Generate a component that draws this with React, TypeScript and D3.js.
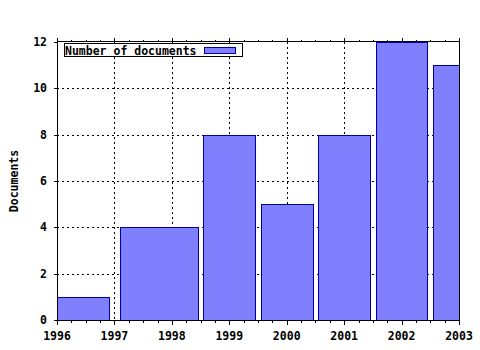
import React from "react";
import * as d3 from "d3";

const years = [1996, 1998, 1999, 2000, 2001, 2002, 2003];
const documents = [1, 4, 8, 5, 8, 12, 11];
const xTickYears = [1996, 1997, 1998, 1999, 2000, 2001, 2002, 2003];
const yTickValues = [0, 2, 4, 6, 8, 10, 12];
const seriesLabel = "Number of documents";
const yAxisLabel = "Documents";

const W = 480;
const H = 350;
const M = { left: 57, right: 21, top: 42, bottom: 30 };
const BOX_FACTOR = 0.9;
const FONT = "'DejaVu Sans Mono', 'Liberation Mono', monospace";
const FILL = "#8080ff";
const EDGE = "#0000a0";

export default function App() {
  const x = d3.scaleLinear().domain([1996, 2003]).range([M.left, W - M.right]);
  const y = d3.scaleLinear().domain([0, 12]).range([H - M.bottom, M.top]);
  const [x0, x1] = x.range();
  const [yb, yt] = y.range();

  // gnuplot-like autowidth boxes: half distance to neighbours, scaled
  const boxes = years.map((yr, i) => {
    const prev = i > 0 ? years[i - 1] : null;
    const next = i < years.length - 1 ? years[i + 1] : null;
    let dl = prev !== null ? (yr - prev) / 2 : null;
    let dr = next !== null ? (next - yr) / 2 : null;
    if (dl === null) dl = dr as number;
    if (dr === null) dr = dl;
    return { x0: yr - dl * BOX_FACTOR, x1: yr + dr * BOX_FACTOR, v: documents[i] };
  });

  const minorTicks: number[] = [];
  for (let yr = 1996; yr < 2003; yr++) {
    for (let q = 1; q < 4; q++) minorTicks.push(yr + q / 4);
  }

  const r = (v: number) => Math.round(v) + 0.5;

  return (
    <svg
      width={W}
      height={H}
      style={{ position: "absolute", left: 0, top: 0, background: "#fff" }}
      fontFamily={FONT}
    >
      <defs>
        <clipPath id="plot">
          <rect x={x0} y={yt} width={x1 - x0 + 1} height={yb - yt + 1} />
        </clipPath>
      </defs>
      <rect x={0} y={0} width={W} height={H} fill="#fff" />

      {/* grid */}
      <g stroke="#000" strokeWidth={1} strokeDasharray="2,3" shapeRendering="crispEdges">
        {xTickYears.slice(1, -1).map((t) => (
          <line key={"gx" + t} x1={r(x(t))} x2={r(x(t))} y1={yt} y2={yb} />
        ))}
        {yTickValues.slice(1, -1).map((t) => (
          <line key={"gy" + t} x1={x0} x2={x1} y1={r(y(t))} y2={r(y(t))} />
        ))}
      </g>

      {/* bars */}
      <g clipPath="url(#plot)" shapeRendering="crispEdges">
        {boxes.map((b, i) => (
          <rect
            key={i}
            x={r(x(b.x0))}
            y={r(y(b.v))}
            width={Math.round(x(b.x1)) - Math.round(x(b.x0))}
            height={Math.round(y(0)) - Math.round(y(b.v))}
            fill={FILL}
            stroke={EDGE}
            strokeWidth={1}
          />
        ))}
      </g>

      {/* frame */}
      <rect
        x={r(x0)}
        y={r(yt) - 1}
        width={Math.round(x1) - Math.round(x0)}
        height={Math.round(yb) - Math.round(yt) + 1}
        fill="none"
        stroke="#000"
        strokeWidth={1}
        shapeRendering="crispEdges"
      />

      {/* ticks */}
      <g stroke="#000" strokeWidth={1} shapeRendering="crispEdges">
        {xTickYears.map((t) => (
          <g key={"tx" + t}>
            <line x1={r(x(t))} x2={r(x(t))} y1={r(yb)} y2={r(yb) + 4} />
            <line x1={r(x(t))} x2={r(x(t))} y1={r(yt) - 1} y2={r(yt) - 5} />
          </g>
        ))}
        {minorTicks.map((t, i) => (
          <g key={"mx" + i}>
            <line x1={r(x(t))} x2={r(x(t))} y1={r(yb)} y2={r(yb) + 2} />
            <line x1={r(x(t))} x2={r(x(t))} y1={r(yt) - 1} y2={r(yt) - 3} />
          </g>
        ))}
        {yTickValues.map((t) => (
          <line key={"ty" + t} x1={r(x0) - 4} x2={r(x0)} y1={r(y(t))} y2={r(y(t))} />
        ))}
      </g>

      {/* tick labels */}
      <g fontSize={11.5} fontWeight="bold" fill="#000">
        {xTickYears.map((t) => (
          <text key={"lx" + t} x={x(t)} y={340} textAnchor="middle">
            {d3.format("d")(t)}
          </text>
        ))}
        {yTickValues.map((t) => (
          <text key={"ly" + t} x={47} y={y(t) + 4} textAnchor="end">
            {t}
          </text>
        ))}
        <text
          transform={`translate(18,${(yt + yb) / 2}) rotate(-90)`}
          textAnchor="middle"
        >
          {yAxisLabel}
        </text>
      </g>

      {/* legend */}
      <g shapeRendering="crispEdges">
        <rect x={64.5} y={43.5} width={178} height={13} fill="#fff" stroke="#000" strokeWidth={1} />
        <rect x={204.5} y={47.5} width={31} height={6} fill={FILL} stroke={EDGE} strokeWidth={1} />
      </g>
      <text x={65} y={54.5} fontSize={11.5} fontWeight="bold" fill="#000">
        {seriesLabel}
      </text>
    </svg>
  );
}
